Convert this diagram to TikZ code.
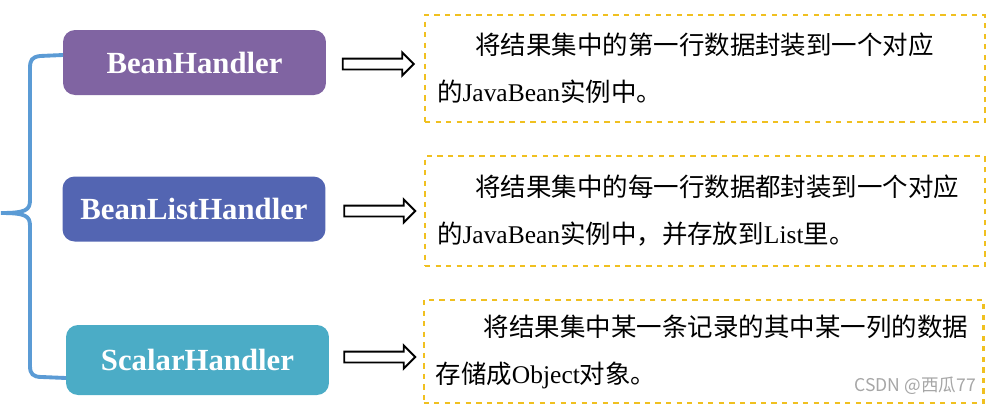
\documentclass[tikz,border=0pt]{standalone}
\usepackage{fontspec}
\setmainfont{Liberation Serif}
\newfontfamily\cjk{Noto Sans CJK SC}
\usetikzlibrary{shapes.arrows}

\definecolor{beanpurple}{HTML}{8064A2}
\definecolor{listblue}{HTML}{5365B2}
\definecolor{scalarcyan}{HTML}{4BACC6}
\definecolor{bracketblue}{HTML}{5B9BD5}
\definecolor{notegold}{HTML}{F0C020}

\begin{document}
\begin{tikzpicture}[x=0.02cm,y=-0.02cm,
  handler/.style={rounded corners=0.24cm,minimum width=5.26cm,minimum height=1.3cm,
    inner sep=0pt,text=white,font=\fontsize{17.5}{20}\selectfont\bfseries},
  note/.style={draw=notegold,dashed,line width=1.2pt,minimum width=11.2cm,
    inner xsep=0.24cm,text width=10.72cm,align=left,
    font=\fontsize{14.5}{26.7}\selectfont},
  hollow/.style={single arrow,draw=black,fill=white,line width=1.1pt,inner sep=0.09cm,
    minimum height=1.42cm,single arrow head extend=0.12cm,single arrow tip angle=90}]
\useasboundingbox (0,0) rectangle (995,407);

% handlers
\node[handler,fill=beanpurple] (bean) at (194.5,62.5) {BeanHandler};
\node[handler,fill=listblue] (beanlist) at (194,209) {BeanListHandler};
\node[handler,fill=scalarcyan,minimum height=1.4cm] (scalar) at (197.5,360) {ScalarHandler};

% brace
\draw[bracketblue,line width=2.2pt] (63,55) -- (40,56) .. controls (32,57) and (30,60) .. (30,68)
  -- (30,200) .. controls (30,210) and (26,213) .. (1,213)
  .. controls (26,213) and (30,216) .. (30,226) -- (30,366)
  .. controls (30,374) and (33,377) .. (42,377) -- (66,378);

% arrows
\node[hollow] (arr1) at (375.5,64) {};
\node[hollow] (arr2) at (377,211) {};
\node[hollow] (arr3) at (377,357) {};

% notes
\node[note,minimum height=2.14cm] (note1) at (705,68.5)
  {\hspace*{1.5em}{\cjk 将结果集中的第一行数据封装到一个对应}\\{\cjk 的}JavaBean{\cjk 实例中。}};
\node[note,minimum height=2.2cm] (note2) at (705,211)
  {\hspace*{1.5em}{\cjk 将结果集中的每一行数据都封装到一个对应}\\{\cjk 的}JavaBean{\cjk 实例中，并存放到}List{\cjk 里。}};
\node[note,minimum height=2.06cm] (note3) at (703.5,351.5)
  {\hspace*{1.9em}{\cjk 将结果集中某一条记录的其中某一列的数据}\\{\cjk 存储成}Object{\cjk 对象。}};

% watermark
\node[anchor=east,text=black!35,font=\cjk\fontsize{10}{12}\selectfont] (mark) at (982,386) {CSDN @西瓜77};
\end{tikzpicture}
\end{document}
